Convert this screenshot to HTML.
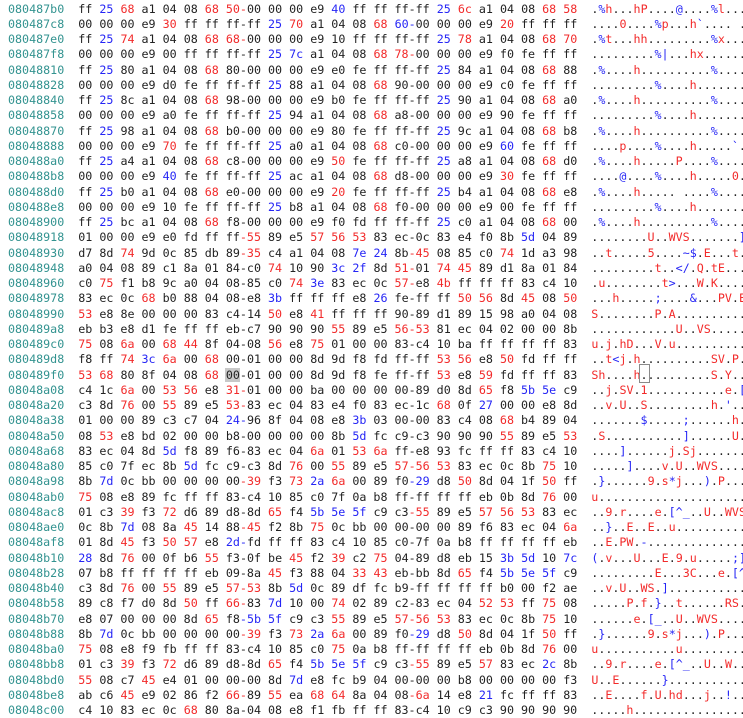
<!DOCTYPE html>
<html><head><meta charset="utf-8">
<style>
html,body{margin:0;padding:0;background:#fff;}
body{width:743px;height:706px;overflow:hidden;position:relative;}
.d{position:absolute;left:8px;top:1.6px;font-family:"DejaVu Sans Mono","Liberation Mono",monospace;font-size:11.68px;line-height:15.26px;color:#222;z-index:2;}
.d div{height:15.26px;white-space:pre;}
w{color:#339390;}
x{color:#f22a2a;}
y{color:#2525f5;}
.hl{position:absolute;left:225px;top:368px;width:15px;height:14px;background:#c8c8c8;z-index:1;}
.bx{position:absolute;left:639px;top:364px;width:9px;height:17px;border:1px solid #8a8a8a;z-index:3;}
</style></head><body>
<div class="hl"></div>
<div class="bx"></div>
<div class="d">
<div><w>080487b0</w>  ff <y>25</y> <x>68</x> a1 04 08 <x>68 50-</x>00 00 00 e9 <y>40</y> ff ff ff-ff <y>25</y> <x>6c</x> a1 04 08 <x>68 58</x>  .<y>%</y><x>h</x>...<x>hP</x>....<y>@</y>....<y>%</y><x>l</x>...<x>hX</x></div>
<div><w>080487c8</w>  00 00 00 e9 <x>30</x> ff ff ff-ff <y>25</y> <x>70</x> a1 04 08 <x>68</x> <y>60-</y>00 00 00 e9 <x>20</x> ff ff ff  ....<x>0</x>....<y>%</y><x>p</x>...<x>h</x><y>`</y>.... ...</div>
<div><w>080487e0</w>  ff <y>25</y> <x>74</x> a1 04 08 <x>68 68-</x>00 00 00 e9 10 ff ff ff-ff <y>25</y> <x>78</x> a1 04 08 <x>68 70</x>  .<y>%</y><x>t</x>...<x>hh</x>.........<y>%</y><x>x</x>...<x>hp</x></div>
<div><w>080487f8</w>  00 00 00 e9 00 ff ff ff-ff <y>25 7c</y> a1 04 08 <x>68 78-</x>00 00 00 e9 f0 fe ff ff  .........<y>%|</y>...<x>hx</x>........</div>
<div><w>08048810</w>  ff <y>25</y> 80 a1 04 08 <x>68</x> 80-00 00 00 e9 e0 fe ff ff-ff <y>25</y> 84 a1 04 08 <x>68</x> 88  .<y>%</y>....<x>h</x>..........<y>%</y>....<x>h</x>.</div>
<div><w>08048828</w>  00 00 00 e9 d0 fe ff ff-ff <y>25</y> 88 a1 04 08 <x>68</x> 90-00 00 00 e9 c0 fe ff ff  .........<y>%</y>....<x>h</x>.........</div>
<div><w>08048840</w>  ff <y>25</y> 8c a1 04 08 <x>68</x> 98-00 00 00 e9 b0 fe ff ff-ff <y>25</y> 90 a1 04 08 <x>68</x> a0  .<y>%</y>....<x>h</x>..........<y>%</y>....<x>h</x>.</div>
<div><w>08048858</w>  00 00 00 e9 a0 fe ff ff-ff <y>25</y> 94 a1 04 08 <x>68</x> a8-00 00 00 e9 90 fe ff ff  .........<y>%</y>....<x>h</x>.........</div>
<div><w>08048870</w>  ff <y>25</y> 98 a1 04 08 <x>68</x> b0-00 00 00 e9 80 fe ff ff-ff <y>25</y> 9c a1 04 08 <x>68</x> b8  .<y>%</y>....<x>h</x>..........<y>%</y>....<x>h</x>.</div>
<div><w>08048888</w>  00 00 00 e9 <x>70</x> fe ff ff-ff <y>25</y> a0 a1 04 08 <x>68</x> c0-00 00 00 e9 <y>60</y> fe ff ff  ....<x>p</x>....<y>%</y>....<x>h</x>.....<y>`</y>...</div>
<div><w>080488a0</w>  ff <y>25</y> a4 a1 04 08 <x>68</x> c8-00 00 00 e9 <x>50</x> fe ff ff-ff <y>25</y> a8 a1 04 08 <x>68</x> d0  .<y>%</y>....<x>h</x>.....<x>P</x>....<y>%</y>....<x>h</x>.</div>
<div><w>080488b8</w>  00 00 00 e9 <y>40</y> fe ff ff-ff <y>25</y> ac a1 04 08 <x>68</x> d8-00 00 00 e9 <x>30</x> fe ff ff  ....<y>@</y>....<y>%</y>....<x>h</x>.....<x>0</x>...</div>
<div><w>080488d0</w>  ff <y>25</y> b0 a1 04 08 <x>68</x> e0-00 00 00 e9 <x>20</x> fe ff ff-ff <y>25</y> b4 a1 04 08 <x>68</x> e8  .<y>%</y>....<x>h</x>..... ....<y>%</y>....<x>h</x>.</div>
<div><w>080488e8</w>  00 00 00 e9 10 fe ff ff-ff <y>25</y> b8 a1 04 08 <x>68</x> f0-00 00 00 e9 00 fe ff ff  .........<y>%</y>....<x>h</x>.........</div>
<div><w>08048900</w>  ff <y>25</y> bc a1 04 08 <x>68</x> f8-00 00 00 e9 f0 fd ff ff-ff <y>25</y> c0 a1 04 08 <x>68</x> 00  .<y>%</y>....<x>h</x>..........<y>%</y>....<x>h</x>.</div>
<div><w>08048918</w>  01 00 00 e9 e0 fd ff ff<x>-55</x> 89 e5 <x>57 56 53</x> 83 ec-0c 83 e4 f0 8b <y>5d</y> 04 89  ........<x>U</x>..<x>WVS</x>.......<y>]</y>..</div>
<div><w>08048930</w>  d7 8d <x>74</x> 9d 0c 85 db 89<x>-35</x> c4 a1 04 08 <y>7e 24</y> 8b<x>-45</x> 08 85 c0 <x>74</x> 1d a3 98  ..<x>t</x>.....<x>5</x>....<y>~$</y>.<x>E</x>...<x>t</x>...</div>
<div><w>08048948</w>  a0 04 08 89 c1 8a 01 84-c0 <x>74</x> 10 90 <y>3c 2f</y> 8d <x>51-</x>01 <x>74 45</x> 89 d1 8a 01 84  .........<x>t</x>..<y>&lt;/</y>.<x>Q</x>.<x>tE</x>.....</div>
<div><w>08048960</w>  c0 <x>75</x> f1 b8 9c a0 04 08-85 c0 <x>74</x> <y>3e</y> 83 ec 0c <x>57-</x>e8 <x>4b</x> ff ff ff 83 c4 10  .<x>u</x>........<x>t</x><y>&gt;</y>...<x>W</x>.<x>K</x>......</div>
<div><w>08048978</w>  83 ec 0c <x>68</x> b0 88 04 08-e8 <y>3b</y> ff ff ff e8 <y>26</y> fe-ff ff <x>50 56</x> 8d <x>45</x> 08 <x>50</x>  ...<x>h</x>.....<y>;</y>....<y>&amp;</y>...<x>PV</x>.<x>E</x>.<x>P</x></div>
<div><w>08048990</w>  <x>53</x> e8 8e 00 00 00 83 c4-14 <x>50</x> e8 <x>41</x> ff ff ff 90-89 d1 89 15 98 a0 04 08  <x>S</x>........<x>P</x>.<x>A</x>............</div>
<div><w>080489a8</w>  eb b3 e8 d1 fe ff ff eb-c7 90 90 90 <x>55</x> 89 e5 <x>56-53</x> 81 ec 04 02 00 00 8b  ............<x>U</x>..<x>VS</x>.......</div>
<div><w>080489c0</w>  <x>75</x> 08 <x>6a</x> 00 <x>68 44</x> 8f 04-08 <x>56</x> e8 <x>75</x> 01 00 00 83-c4 10 ba ff ff ff ff 83  <x>u</x>.<x>j</x>.<x>hD</x>...<x>V</x>.<x>u</x>............</div>
<div><w>080489d8</w>  f8 ff <x>74</x> <y>3c</y> <x>6a</x> 00 <x>68</x> 00-01 00 00 8d 9d f8 fd ff-ff <x>53 56</x> e8 <x>50</x> fd ff ff  ..<x>t</x><y>&lt;</y><x>j</x>.<x>h</x>..........<x>SV</x>.<x>P</x>...</div>
<div><w>080489f0</w>  <x>53 68</x> 80 8f 04 08 <x>68</x> 00-01 00 00 8d 9d f8 fe ff-ff <x>53</x> e8 <x>59</x> fd ff ff 83  <x>Sh</x>....<x>h</x>..........<x>S</x>.<x>Y</x>....</div>
<div><w>08048a08</w>  c4 1c <x>6a</x> 00 <x>53 56</x> e8 <x>31-</x>01 00 00 ba 00 00 00 00-89 d0 8d <x>65</x> f8 <y>5b 5e</y> c9  ..<x>j</x>.<x>SV</x>.<x>1</x>...........<x>e</x>.<y>[^</y>.</div>
<div><w>08048a20</w>  c3 8d <x>76</x> 00 <x>55</x> 89 e5 <x>53-</x>83 ec 04 83 e4 f0 83 ec-1c <x>68</x> 0f <y>27</y> 00 00 e8 8d  ..<x>v</x>.<x>U</x>..<x>S</x>.........<x>h</x>.<y>'</y>....</div>
<div><w>08048a38</w>  01 00 00 89 c3 c7 04 <y>24-</y>96 8f 04 08 e8 <y>3b</y> 03 00-00 83 c4 08 <x>68</x> b4 89 04  .......<y>$</y>.....<y>;</y>......<x>h</x>...</div>
<div><w>08048a50</w>  08 <x>53</x> e8 bd 02 00 00 b8-00 00 00 00 8b <y>5d</y> fc c9-c3 90 90 90 <x>55</x> 89 e5 <x>53</x>  .<x>S</x>...........<y>]</y>......<x>U</x>..<x>S</x></div>
<div><w>08048a68</w>  83 ec 04 8d <y>5d</y> f8 89 f6-83 ec 04 <x>6a</x> 01 <x>53 6a</x> ff-e8 93 fc ff ff 83 c4 10  ....<y>]</y>......<x>j</x>.<x>Sj</x>.........</div>
<div><w>08048a80</w>  85 c0 7f ec 8b <y>5d</y> fc c9-c3 8d <x>76</x> 00 <x>55</x> 89 e5 <x>57-56 53</x> 83 ec 0c 8b <x>75</x> 10  .....<y>]</y>....<x>v</x>.<x>U</x>..<x>WVS</x>....<x>u</x>.</div>
<div><w>08048a98</w>  8b <y>7d</y> 0c bb 00 00 00 00<x>-39</x> f3 <x>73</x> <y>2a</y> <x>6a</x> 00 89 f0<y>-29</y> d8 <x>50</x> 8d 04 1f <x>50</x> ff  .<y>}</y>......<x>9</x>.<x>s</x><y>*</y><x>j</x>...<y>)</y>.<x>P</x>...<x>P</x>.</div>
<div><w>08048ab0</w>  <x>75</x> 08 e8 89 fc ff ff 83-c4 10 85 c0 7f 0a b8 ff-ff ff ff eb 0b 8d <x>76</x> 00  <x>u</x>.....................<x>v</x>.</div>
<div><w>08048ac8</w>  01 c3 <x>39</x> f3 <x>72</x> d6 89 d8-8d <x>65</x> f4 <y>5b 5e 5f</y> c9 c3<x>-55</x> 89 e5 <x>57 56 53</x> 83 ec  ..<x>9</x>.<x>r</x>....<x>e</x>.<y>[^_</y>..<x>U</x>..<x>WVS</x>..</div>
<div><w>08048ae0</w>  0c 8b <y>7d</y> 08 8a <x>45</x> 14 88<x>-45</x> f2 8b <x>75</x> 0c bb 00 00-00 00 89 f6 83 ec 04 <x>6a</x>  ..<y>}</y>..<x>E</x>..<x>E</x>..<x>u</x>...........<x>j</x></div>
<div><w>08048af8</w>  01 8d <x>45</x> f3 <x>50 57</x> e8 <y>2d-</y>fd ff ff 83 c4 10 85 c0-7f 0a b8 ff ff ff ff eb  ..<x>E</x>.<x>PW</x>.<y>-</y>................</div>
<div><w>08048b10</w>  <y>28</y> 8d <x>76</x> 00 0f b6 <x>55</x> f3-0f be <x>45</x> f2 <x>39</x> c2 <x>75</x> 04-89 d8 eb 15 <y>3b 5d</y> 10 <y>7c</y>  <y>(</y>.<x>v</x>...<x>U</x>...<x>E</x>.<x>9</x>.<x>u</x>.....<y>;]</y>.<y>|</y></div>
<div><w>08048b28</w>  07 b8 ff ff ff ff eb 09-8a <x>45</x> f3 88 04 <x>33 43</x> eb-bb 8d <x>65</x> f4 <y>5b 5e 5f</y> c9  .........<x>E</x>...<x>3C</x>...<x>e</x>.<y>[^_</y>.</div>
<div><w>08048b40</w>  c3 8d <x>76</x> 00 <x>55</x> 89 e5 <x>57-53</x> 8b <y>5d</y> 0c 89 df fc b9-ff ff ff ff b0 00 f2 ae  ..<x>v</x>.<x>U</x>..<x>WS</x>.<y>]</y>.............</div>
<div><w>08048b58</w>  89 c8 f7 d0 8d <x>50</x> ff <x>66-</x>83 <y>7d</y> 10 00 <x>74</x> 02 89 c2-83 ec 04 <x>52 53</x> ff <x>75</x> 08  .....<x>P</x>.<x>f</x>.<y>}</y>..<x>t</x>......<x>RS</x>.<x>u</x>.</div>
<div><w>08048b70</w>  e8 07 00 00 00 8d <x>65</x> f8<y>-5b 5f</y> c9 c3 <x>55</x> 89 e5 <x>57-56 53</x> 83 ec 0c 8b <x>75</x> 10  ......<x>e</x>.<y>[_</y>..<x>U</x>..<x>WVS</x>....<x>u</x>.</div>
<div><w>08048b88</w>  8b <y>7d</y> 0c bb 00 00 00 00<x>-39</x> f3 <x>73</x> <y>2a</y> <x>6a</x> 00 89 f0<y>-29</y> d8 <x>50</x> 8d 04 1f <x>50</x> ff  .<y>}</y>......<x>9</x>.<x>s</x><y>*</y><x>j</x>...<y>)</y>.<x>P</x>...<x>P</x>.</div>
<div><w>08048ba0</w>  <x>75</x> 08 e8 f9 fb ff ff 83-c4 10 85 c0 <x>75</x> 0a b8 ff-ff ff ff eb 0b 8d <x>76</x> 00  <x>u</x>...........<x>u</x>.........<x>v</x>.</div>
<div><w>08048bb8</w>  01 c3 <x>39</x> f3 <x>72</x> d6 89 d8-8d <x>65</x> f4 <y>5b 5e 5f</y> c9 c3<x>-55</x> 89 e5 <x>57</x> 83 ec <y>2c</y> 8b  ..<x>9</x>.<x>r</x>....<x>e</x>.<y>[^_</y>..<x>U</x>..<x>W</x>..<y>,</y>.</div>
<div><w>08048bd0</w>  <x>55</x> 08 c7 <x>45</x> e4 01 00 00-00 8d <y>7d</y> e8 fc b9 04 00-00 00 b8 00 00 00 00 f3  <x>U</x>..<x>E</x>......<y>}</y>.............</div>
<div><w>08048be8</w>  ab c6 <x>45</x> e9 02 86 f2 <x>66-</x>89 <x>55</x> ea <x>68 64</x> 8a 04 08<x>-6a</x> 14 e8 <y>21</y> fc ff ff 83  ..<x>E</x>....<x>f</x>.<x>U</x>.<x>hd</x>...<x>j</x>..<y>!</y>....</div>
<div><w>08048c00</w>  c4 10 83 ec 0c <x>68</x> 80 8a-04 08 e8 f1 fb ff ff 83-c4 10 c9 c3 90 90 90 90  .....<x>h</x>..................</div>
</div>
</body></html>
